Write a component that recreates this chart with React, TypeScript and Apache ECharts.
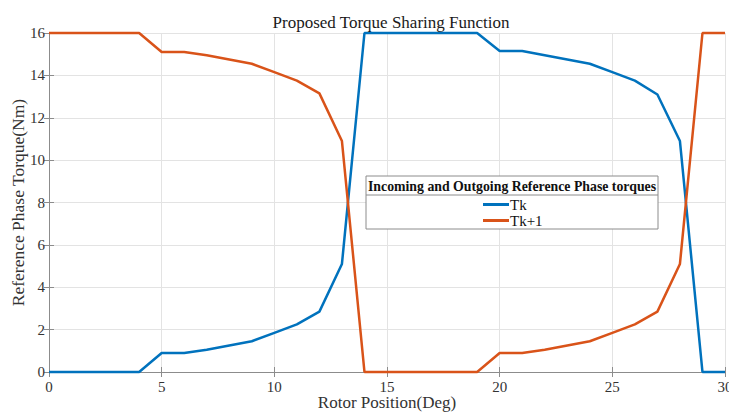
import React, { useEffect, useRef } from "react";
import * as echarts from "echarts";

const positions = [0, 1, 2, 3, 4, 5, 6, 7, 8, 9, 10, 11, 12, 13, 14, 15, 16, 17, 18, 19, 20, 21, 22, 23, 24, 25, 26, 27, 28, 29, 30];
const tk = [0, 0, 0, 0, 0, 0.9, 0.9, 1.05, 1.25, 1.45, 1.85, 2.25, 2.85, 5.1, 16, 16, 16, 16, 16, 16, 15.15, 15.15, 14.95, 14.75, 14.55, 14.15, 13.75, 13.1, 10.9, 0, 0];
const tk1 = [16, 16, 16, 16, 16, 15.1, 15.1, 14.95, 14.75, 14.55, 14.15, 13.75, 13.15, 10.9, 0, 0, 0, 0, 0, 0, 0.9, 0.9, 1.05, 1.25, 1.45, 1.85, 2.25, 2.85, 5.1, 16, 16];
const seriesNames = ["Tk", "Tk+1"];
const titleText = "Proposed Torque Sharing Function";
const legendTitle = "Incoming and Outgoing Reference Phase torques";

const FONT = "'Liberation Serif', 'Times New Roman', serif";

export default function App() {
  const ref = useRef<HTMLDivElement>(null);
  useEffect(() => {
    if (!ref.current) return;
    const chart = echarts.init(ref.current, null, { renderer: "svg" });
    const axisColor = "#8c8c8c";
    chart.setOption({
      animation: false,
      backgroundColor: "#ffffff",
      title: {
        text: titleText,
        left: 386,
        textAlign: "center",
        top: 9,
        textStyle: { fontFamily: FONT, fontSize: 17, fontWeight: "normal", color: "#1a1a1a" },
      },
      grid: { left: 49, right: 4, top: 33, bottom: 42, outerBoundsMode: "none", containLabel: false },
      xAxis: [
        {
          type: "value",
          min: 0,
          max: 30,
          interval: 5,
          name: "Rotor Position(Deg)",
          nameLocation: "middle",
          nameGap: 22,
          nameMoveOverlap: false,
          nameTextStyle: { fontFamily: FONT, fontSize: 17, color: "#333" },
          axisLine: { show: true, lineStyle: { color: axisColor, width: 1 } },
          axisTick: { show: true, inside: true, length: 5, lineStyle: { color: axisColor } },
          axisLabel: { fontFamily: FONT, fontSize: 15, color: "#333", margin: 7 },
          splitLine: { show: true, lineStyle: { color: "#e3e3e3", width: 1 } },
        },
        {
          type: "value",
          position: "top",
          min: 0,
          max: 30,
          interval: 5,
          axisLine: { show: true, lineStyle: { color: axisColor, width: 1 } },
          axisTick: { show: true, inside: true, length: 5, lineStyle: { color: axisColor } },
          axisLabel: { show: false },
          splitLine: { show: false },
        },
      ],
      yAxis: [
        {
          type: "value",
          min: 0,
          max: 16,
          interval: 2,
          name: "Reference Phase Torque(Nm)",
          nameLocation: "middle",
          nameGap: 22,
          nameMoveOverlap: false,
          nameTextStyle: { fontFamily: FONT, fontSize: 17.5, color: "#333" },
          axisLine: { show: true, lineStyle: { color: axisColor, width: 1 } },
          axisTick: { show: true, inside: true, length: 5, lineStyle: { color: axisColor } },
          axisLabel: { fontFamily: FONT, fontSize: 15, color: "#333", margin: 4 },
          splitLine: { show: true, lineStyle: { color: "#e3e3e3", width: 1 } },
        },
        {
          type: "value",
          position: "right",
          min: 0,
          max: 16,
          interval: 2,
          axisLine: { show: true, lineStyle: { color: axisColor, width: 1 } },
          axisTick: { show: true, inside: true, length: 5, lineStyle: { color: axisColor } },
          axisLabel: { show: false },
          splitLine: { show: false },
        },
      ],
      legend: {
        data: seriesNames,
        orient: "vertical",
        left: 483,
        top: 197,
        padding: 0,
        icon: "rect",
        itemWidth: 26,
        itemHeight: 3,
        itemGap: 1,
        z: 20,
        textStyle: { fontFamily: FONT, fontSize: 15, color: "#111", padding: [0, 0, 0, -4] },
      },
      graphic: [
        {
          type: "rect",
          z: 10,
          shape: { x: 366, y: 176, width: 292, height: 53 },
          style: { fill: "#ffffff", stroke: "#8c8c8c", lineWidth: 1 },
        },
        {
          type: "line",
          z: 11,
          shape: { x1: 366, y1: 195, x2: 658, y2: 195 },
          style: { stroke: "#8c8c8c", lineWidth: 1 },
        },
        {
          type: "text",
          z: 11,
          x: 512,
          y: 186,
          style: {
            text: legendTitle,
            fontFamily: FONT,
            fontSize: 13.8,
            fontWeight: "bold",
            fill: "#111",
            align: "center",
            verticalAlign: "middle",
          },
        },
      ],
      series: [
        {
          name: seriesNames[0],
          type: "line",
          data: positions.map((p, i) => [p, tk[i]]),
          showSymbol: false,
          lineStyle: { color: "#0072BD", width: 2.5 },
          itemStyle: { color: "#0072BD" },
          clip: false,
        },
        {
          name: seriesNames[1],
          type: "line",
          data: positions.map((p, i) => [p, tk1[i]]),
          showSymbol: false,
          lineStyle: { color: "#D95319", width: 2.5 },
          itemStyle: { color: "#D95319" },
          clip: false,
        },
      ],
    });
    return () => chart.dispose();
  }, []);
  return <div ref={ref} style={{ width: 729, height: 414, position: "fixed", left: 0, top: 0 }} />;
}
